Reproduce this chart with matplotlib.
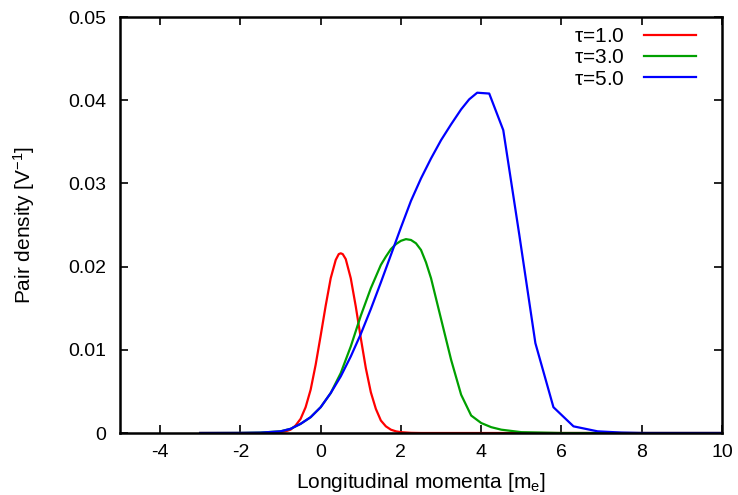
import matplotlib
matplotlib.use("Agg")
import matplotlib.pyplot as plt

plt.rcParams['font.family'] = ['Liberation Sans', 'DejaVu Sans']
plt.rcParams['mathtext.fontset'] = 'custom'
plt.rcParams['mathtext.rm'] = 'Liberation Sans'
plt.rcParams['mathtext.it'] = 'Liberation Sans'

# tau = 1.0
x_red = [-3.0, -2.0, -1.5, -1.25, -1.0, -0.875, -0.75, -0.625, -0.5, -0.375, -0.25, -0.125,
         0.0, 0.125, 0.25, 0.375, 0.45, 0.5, 0.55, 0.625, 0.75, 0.875, 1.0, 1.125, 1.25, 1.375,
         1.5, 1.625, 1.75, 1.875, 2.0, 2.25, 2.5, 3.0, 10.0]
y_red = [0.0, 0.0, 0.000005, 0.00002, 0.0001, 0.0002, 0.0004, 0.0009, 0.0017, 0.0031, 0.0052, 0.0082,
         0.0117, 0.0153, 0.0186, 0.0208, 0.0215, 0.0216, 0.0215, 0.0209, 0.0186, 0.0152, 0.0114, 0.0078, 0.0049, 0.0029,
         0.0015, 0.0008, 0.0004, 0.0002, 0.0001, 0.00002, 0.0, 0.0, 0.0]

# tau = 3.0
x_green = [-3.0, -2.0, -1.5, -1.0, -0.75, -0.5, -0.25, 0.0, 0.25, 0.5, 0.75, 1.0, 1.25, 1.5,
           1.625, 1.75, 1.875, 2.0, 2.125, 2.25, 2.375, 2.5, 2.625, 2.75, 3.0, 3.25, 3.5,
           3.75, 4.0, 4.25, 4.5, 5.0, 6.0, 10.0]
y_green = [0.0, 0.00001, 0.00005, 0.0002, 0.0005, 0.0011, 0.0019, 0.0031, 0.0048, 0.0072, 0.0104, 0.0141, 0.0174, 0.0202,
           0.0212, 0.0221, 0.0227, 0.0231, 0.0233, 0.0232, 0.0228, 0.0220, 0.0205, 0.0186, 0.0137, 0.0088, 0.0046,
           0.0021, 0.0012, 0.0007, 0.0004, 0.0001, 0.0, 0.0]

# tau = 5.0
x_blue = [-3.0, -2.0, -1.5, -1.0, -0.75, -0.5, -0.25, 0.0, 0.25, 0.5, 0.75, 1.0, 1.25, 1.5, 1.75,
          2.0, 2.25, 2.5, 2.75, 3.0, 3.25, 3.5, 3.7, 3.9, 4.2, 4.55, 4.95, 5.35, 5.8, 6.3,
          6.9, 7.5, 8.0, 10.0]
y_blue = [0.0, 0.00001, 0.00004, 0.0002, 0.0005, 0.0011, 0.0019, 0.0031, 0.0048, 0.0068, 0.0092, 0.0119, 0.0149, 0.0181, 0.0214,
          0.0247, 0.0279, 0.0306, 0.0330, 0.0352, 0.0371, 0.0389, 0.0401, 0.0409, 0.0408, 0.0364, 0.0238, 0.0108, 0.0031, 0.0008,
          0.0002, 0.00005, 0.0, 0.0]

series = [
    (x_red, y_red, '#ff0000', r'$\tau$=1.0'),
    (x_green, y_green, '#00a000', r'$\tau$=3.0'),
    (x_blue, y_blue, '#0000ff', r'$\tau$=5.0'),
]

x_ticks = [-4, -2, 0, 2, 4, 6, 8, 10]
y_ticks = [0, 0.01, 0.02, 0.03, 0.04, 0.05]
y_tick_labels = ['0', '0.01', '0.02', '0.03', '0.04', '0.05']

fig = plt.figure(figsize=(7.38, 4.95), dpi=100)
ax = fig.add_axes([120/738, 62/495, 602/738, 416/495])

for xs, ys, c, lab in series:
    ax.plot(xs, ys, color=c, lw=1.6, label=lab)

ax.set_xlim(-5, 10)
ax.set_ylim(0, 0.05)
ax.set_xticks(x_ticks)
ax.set_xticklabels([str(t) for t in x_ticks])
ax.set_yticks(y_ticks)
ax.set_yticklabels(y_tick_labels)
ax.tick_params(direction='in', top=True, right=True, length=6, width=1.2, labelsize=14)
ax.tick_params(axis='y', pad=10)
ax.tick_params(axis='x', pad=8)
for s in ax.spines.values():
    s.set_linewidth(1.8)

ax.set_xlabel(r'Longitudinal momenta [m$_\mathregular{e}$]', fontsize=15, labelpad=7)
ax.set_ylabel(r'Pair density [V$^{\mathregular{-1}}$]', fontsize=15, labelpad=22)

leg = ax.legend(loc='upper right', frameon=False, markerfirst=False, fontsize=15,
                handlelength=2.5, handletextpad=0.9, labelspacing=0.1,
                borderaxespad=0.0, bbox_to_anchor=(0.97, 0.995))

fig.savefig('out.png', dpi=100)
